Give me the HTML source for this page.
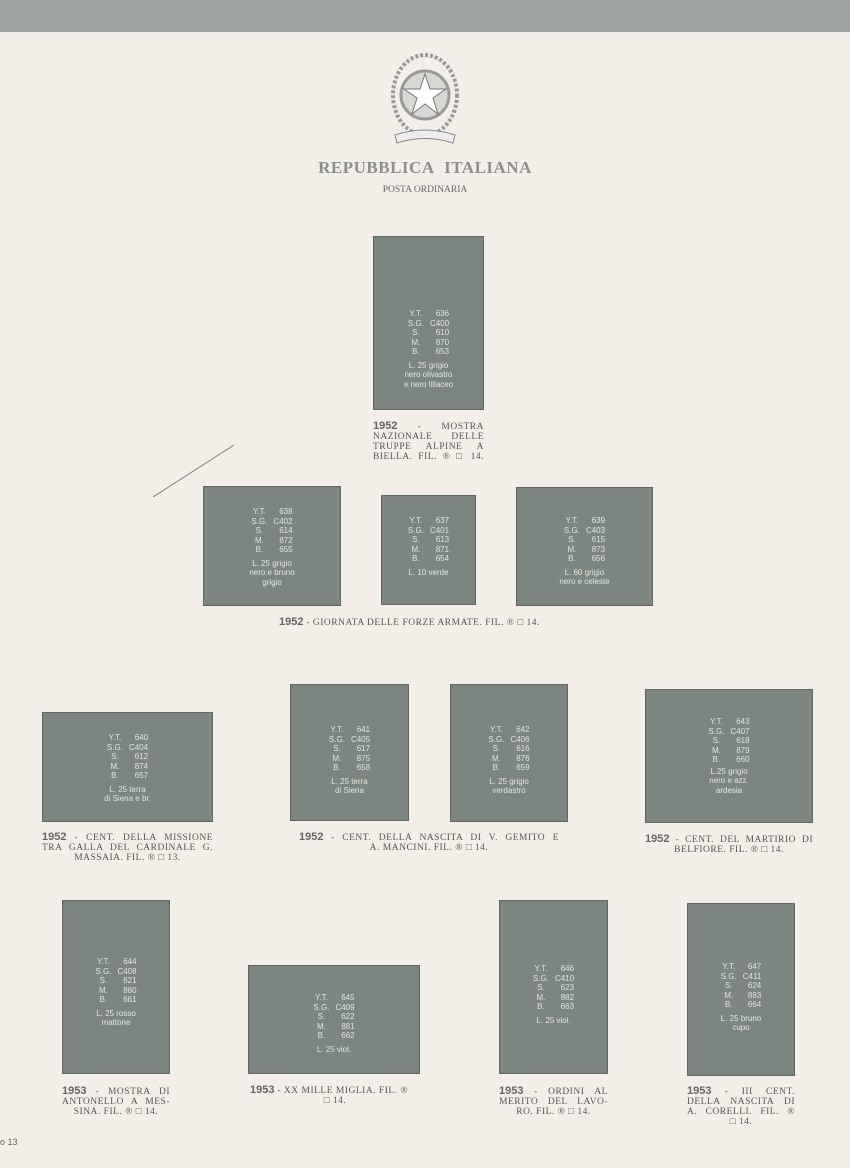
<!DOCTYPE html>
<html><head><meta charset="utf-8"><style>
body{margin:0;width:850px;height:1168px;background:#f3efe8;position:relative;overflow:hidden;font-family:"Liberation Serif",serif;}
.top{position:absolute;left:0;top:0;width:850px;height:32px;background:#9da39f;}
.s{position:absolute;background:#7c8580;border:1px solid #5f6763;box-sizing:border-box;color:#e2e6df;font-family:"Liberation Sans",sans-serif;font-size:8px;line-height:9.5px;}
.s .t{position:absolute;left:0;right:0;text-align:center;}
.s table{border-collapse:collapse;margin:0 auto;font-size:8px;}
.s td{padding:0 3px;line-height:9.5px}
.s td+td{text-align:right}
.c{position:absolute;color:#555;font-size:9.5px;line-height:10px;letter-spacing:0.5px;}
.c b{font-family:"Liberation Sans",sans-serif;font-size:11px;color:#666;letter-spacing:0}
.j{text-align:justify;text-align-last:justify}
.ce{text-align:center}
</style></head><body>
<div class="top"></div>
<svg style="position:absolute;left:385px;top:50px" width="80" height="100" viewBox="0 0 80 100">
<ellipse cx="40" cy="45" rx="32" ry="40" fill="none" stroke="#999" stroke-width="4" stroke-dasharray="3 2"/>
<circle cx="40" cy="45" r="24" fill="#d7d7d3" stroke="#999" stroke-width="3"/>
<polygon points="40,24 45,39 61,39 48,48 53,64 40,54 27,64 32,48 19,39 35,39" fill="#fff" stroke="#777"/>
<path d="M10 85 Q40 75 70 85 L68 93 Q40 84 12 93Z" fill="#eee" stroke="#888"/>
</svg>
<div style="position:absolute;left:0;width:850px;top:158px;text-align:center;font-weight:bold;font-size:17px;color:#8a8f8b;letter-spacing:0.5px">REPUBBLICA&nbsp; ITALIANA</div>
<div style="position:absolute;left:0;width:850px;top:185px;text-align:center;font-size:9.5px;color:#666">POSTA ORDINARIA</div>

<div class="s" style="left:373px;top:236px;width:111px;height:174px"><div class="t" style="top:72px"><table><tr><td>Y.T.</td><td>636</td></tr><tr><td>S.G.</td><td>C400</td></tr><tr><td>S.</td><td>610</td></tr><tr><td>M.</td><td>870</td></tr><tr><td>B.</td><td>653</td></tr></table><div style="margin-top:4px">L. 25 grigio<br>nero olivastro<br>e nero lillaceo</div></div></div>
<div class="c j" style="left:373px;top:421px;width:111px"><b>1952</b> - MOSTRA NAZIONALE DELLE TRUPPE ALPINE A BIELLA. FIL. ® □ 14.</div>

<svg style="position:absolute;left:150px;top:442px" width="90" height="60"><line x1="3" y1="55" x2="84" y2="3" stroke="#777" stroke-width="1"/></svg>

<div class="s" style="left:203px;top:486px;width:138px;height:120px"><div class="t" style="top:20px"><table><tr><td>Y.T.</td><td>638</td></tr><tr><td>S.G.</td><td>C402</td></tr><tr><td>S.</td><td>614</td></tr><tr><td>M.</td><td>872</td></tr><tr><td>B.</td><td>655</td></tr></table><div style="margin-top:4px">L. 25 grigio<br>nero e bruno<br>grigio</div></div></div>
<div class="s" style="left:381px;top:495px;width:95px;height:110px"><div class="t" style="top:20px"><table><tr><td>Y.T.</td><td>637</td></tr><tr><td>S.G.</td><td>C401</td></tr><tr><td>S.</td><td>613</td></tr><tr><td>M.</td><td>871</td></tr><tr><td>B.</td><td>654</td></tr></table><div style="margin-top:4px">L. 10 verde</div></div></div>
<div class="s" style="left:516px;top:487px;width:137px;height:119px"><div class="t" style="top:28px"><table><tr><td>Y.T.</td><td>639</td></tr><tr><td>S.G.</td><td>C403</td></tr><tr><td>S.</td><td>615</td></tr><tr><td>M.</td><td>873</td></tr><tr><td>B.</td><td>656</td></tr></table><div style="margin-top:4px">L. 60 grigio<br>nero e celeste</div></div></div>
<div class="c" style="left:279px;top:617px;width:400px"><b>1952</b> - GIORNATA DELLE FORZE ARMATE. FIL. ® □ 14.</div>

<div class="s" style="left:42px;top:712px;width:171px;height:110px"><div class="t" style="top:20px"><table><tr><td>Y.T.</td><td>640</td></tr><tr><td>S.G.</td><td>C404</td></tr><tr><td>S.</td><td>612</td></tr><tr><td>M.</td><td>874</td></tr><tr><td>B.</td><td>657</td></tr></table><div style="margin-top:4px">L. 25 terra<br>di Siena e br.</div></div></div>
<div class="c" style="left:42px;top:832px;width:171px"><div class="j"><b>1952</b> - CENT. DELLA MISSIONE</div><div class="j">TRA GALLA DEL CARDINALE G.</div><div class="ce">MASSAIA. FIL. ® □ 13.</div></div>

<div class="s" style="left:290px;top:684px;width:119px;height:137px"><div class="t" style="top:40px"><table><tr><td>Y.T.</td><td>641</td></tr><tr><td>S.G.</td><td>C405</td></tr><tr><td>S.</td><td>617</td></tr><tr><td>M.</td><td>875</td></tr><tr><td>B.</td><td>658</td></tr></table><div style="margin-top:4px">L. 25 terra<br>di Siena</div></div></div>
<div class="s" style="left:450px;top:684px;width:118px;height:138px"><div class="t" style="top:40px"><table><tr><td>Y.T.</td><td>642</td></tr><tr><td>S.G.</td><td>C406</td></tr><tr><td>S.</td><td>616</td></tr><tr><td>M.</td><td>876</td></tr><tr><td>B.</td><td>659</td></tr></table><div style="margin-top:4px">L. 25 grigio<br>verdastro</div></div></div>
<div class="c" style="left:299px;top:832px;width:260px"><div class="j"><b>1952</b> - CENT. DELLA NASCITA DI V. GEMITO E</div><div class="ce">A. MANCINI. FIL. ® □ 14.</div></div>

<div class="s" style="left:645px;top:689px;width:168px;height:134px"><div class="t" style="top:27px"><table><tr><td>Y.T.</td><td>643</td></tr><tr><td>S.G.</td><td>C407</td></tr><tr><td>S.</td><td>618</td></tr><tr><td>M.</td><td>879</td></tr><tr><td>B.</td><td>660</td></tr></table><div style="margin-top:2px">L.25 grigio<br>nero e azz.<br>ardesia</div></div></div>
<div class="c" style="left:645px;top:834px;width:168px"><div class="j"><b>1952</b> - CENT. DEL MARTIRIO DI</div><div class="ce">BELFIORE. FIL. ® □ 14.</div></div>

<div class="s" style="left:62px;top:900px;width:108px;height:174px"><div class="t" style="top:56px"><table><tr><td>Y.T.</td><td>644</td></tr><tr><td>S.G.</td><td>C408</td></tr><tr><td>S.</td><td>621</td></tr><tr><td>M.</td><td>880</td></tr><tr><td>B.</td><td>661</td></tr></table><div style="margin-top:4px">L. 25 rosso<br>mattone</div></div></div>
<div class="c" style="left:62px;top:1086px;width:108px"><div class="j"><b>1953</b> - MOSTRA DI</div><div class="j">ANTONELLO A MES-</div><div class="ce">SINA. FIL. ® □ 14.</div></div>

<div class="s" style="left:248px;top:965px;width:172px;height:109px"><div class="t" style="top:27px"><table><tr><td>Y.T.</td><td>645</td></tr><tr><td>S.G.</td><td>C409</td></tr><tr><td>S.</td><td>622</td></tr><tr><td>M.</td><td>881</td></tr><tr><td>B.</td><td>662</td></tr></table><div style="margin-top:4px">L. 25 viol.</div></div></div>
<div class="c" style="left:250px;top:1085px;width:170px"><div><b>1953</b> - XX MILLE MIGLIA. FIL. ®</div><div class="ce">□ 14.</div></div>

<div class="s" style="left:499px;top:900px;width:109px;height:174px"><div class="t" style="top:63px"><table><tr><td>Y.T.</td><td>646</td></tr><tr><td>S.G.</td><td>C410</td></tr><tr><td>S.</td><td>623</td></tr><tr><td>M.</td><td>882</td></tr><tr><td>B.</td><td>663</td></tr></table><div style="margin-top:4px">L. 25 viol.</div></div></div>
<div class="c" style="left:499px;top:1086px;width:109px"><div class="j"><b>1953</b> - ORDINI AL</div><div class="j">MERITO DEL LAVO-</div><div class="ce">RO. FIL. ® □ 14.</div></div>

<div class="s" style="left:687px;top:903px;width:108px;height:173px"><div class="t" style="top:58px"><table><tr><td>Y.T.</td><td>647</td></tr><tr><td>S.G.</td><td>C411</td></tr><tr><td>S.</td><td>624</td></tr><tr><td>M.</td><td>883</td></tr><tr><td>B.</td><td>664</td></tr></table><div style="margin-top:4px">L. 25 bruno<br>cupo</div></div></div>
<div class="c" style="left:687px;top:1086px;width:108px"><div class="j"><b>1953</b> - III CENT.</div><div class="j">DELLA NASCITA DI</div><div class="j">A. CORELLI. FIL. ®</div><div class="ce">□ 14.</div></div>

<div style="position:absolute;left:0;top:1137px;font-size:9px;color:#666;font-family:'Liberation Sans',sans-serif">o 13</div>
</body></html>
